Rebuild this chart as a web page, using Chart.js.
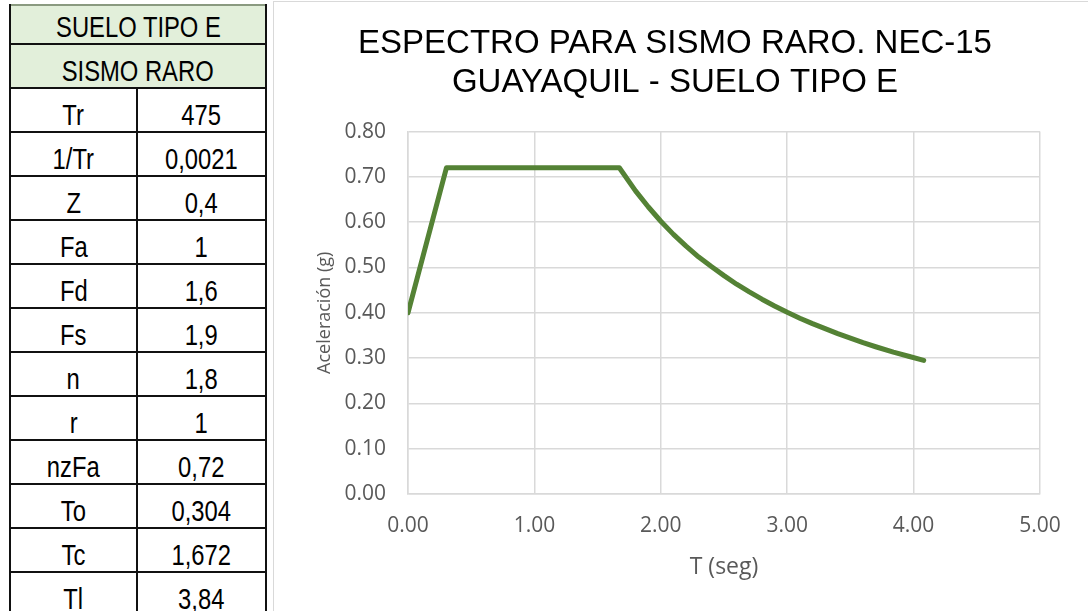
<!DOCTYPE html>
<html>
<head>
<meta charset="utf-8">
<script src="https://cdn.jsdelivr.net/npm/chart.js@4.4.1/dist/chart.umd.min.js"></script>
<style>
  html, body { margin: 0; padding: 0; background: #fff; overflow: hidden; }
  body { width: 1088px; height: 611px; position: relative; }
  #tabla { position: absolute; left: 0; top: 0; width: 270px; height: 611px; }
  .cell {
    position: absolute; box-sizing: border-box; overflow: hidden;
    font-family: "Liberation Sans", Arial, sans-serif; font-size: 29px; color: #000;
    text-align: center; white-space: nowrap;
  }
  .cell span { display: inline-block; transform: scaleX(0.82); transform-origin: center; line-height: 29px; }
  .hline { position: absolute; height: 2px; background: #111; }
  .vline { position: absolute; width: 2px; background: #111; }
  #panel {
    position: absolute; left: 273px; top: 1px; width: 830px; height: 640px;
    border-left: 1px solid #d9d9d9; border-top: 1px solid #d9d9d9;
  }
  #wrap { position: absolute; left: 274px; top: 3px; width: 814px; height: 608px; }
</style>
</head>
<body>
<div id="tabla"></div>
<div id="panel"></div>
<div id="wrap"><canvas id="espectro"></canvas></div>
<script>
// tabla de parametros
const encabezados = ['SUELO TIPO E', 'SISMO RARO'];
const parametros = ['Tr', '1/Tr', 'Z', 'Fa', 'Fd', 'Fs', 'n', 'r', 'nzFa', 'To', 'Tc', 'Tl'];
const valores = ['475', '0,0021', '0,4', '1', '1,6', '1,9', '1,8', '1', '0,72', '0,304', '1,672', '3,84'];

// espectro (T en seg, Sa en g)
const periodos = [0, 0.304, 1.672, 1.8, 1.9, 2.0, 2.1, 2.2, 2.3, 2.4, 2.5, 2.6, 2.7, 2.8, 2.9,
  3.0, 3.1, 3.2, 3.3, 3.4, 3.5, 3.6, 3.7, 3.84, 3.96, 4.08];
const aceleraciones = [0.40, 0.72, 0.72, 0.669, 0.634, 0.602, 0.573, 0.547, 0.523, 0.502, 0.482, 0.463,
  0.446, 0.430, 0.415, 0.401, 0.388, 0.376, 0.365, 0.354, 0.344, 0.334, 0.325, 0.313, 0.304, 0.295];

const tituloGrafico = ['ESPECTRO PARA SISMO RARO. NEC-15', 'GUAYAQUIL - SUELO TIPO E'];
const tituloX = 'T (seg)';
const tituloY = 'Aceleración (g)';

// armar la tabla
const tabla = document.getElementById('tabla');
const izq = 10, der = 266, medio = 137;
const filas = [5, 43.5];
for (let k = 1; k <= 13; k++) filas.push(43.5 + 44 * k);

function celda(x, y, w, h, texto, fondo) {
  const d = document.createElement('div');
  d.className = 'cell';
  d.style.left = x + 'px';
  d.style.top = y + 'px';
  d.style.width = w + 'px';
  d.style.height = h + 'px';
  d.style.paddingTop = (h - 33) + 'px';
  if (fondo) d.style.background = fondo;
  const s = document.createElement('span');
  s.textContent = texto;
  d.appendChild(s);
  tabla.appendChild(d);
}
encabezados.forEach((t, i) => {
  celda(izq, filas[i], der - izq, filas[i + 1] - filas[i], t, '#e2efda');
});
parametros.forEach((p, i) => {
  const y0 = filas[i + 2], y1 = filas[i + 3];
  celda(izq, y0, medio - izq, y1 - y0, p);
  celda(medio, y0, der - medio, y1 - y0, valores[i]);
});
filas.forEach((y, i) => {
  const l = document.createElement('div');
  l.className = 'hline';
  l.style.left = izq + 'px';
  l.style.top = (y - 1) + 'px';
  l.style.width = (der - izq + 1) + 'px';
  if (i === 0) l.style.background = '#8a9a80';
  tabla.appendChild(l);
});
[[izq, 5], [der, 5], [medio, filas[2]]].forEach(([x, y]) => {
  const l = document.createElement('div');
  l.className = 'vline';
  l.style.left = (x - 1) + 'px';
  l.style.top = (y - 1) + 'px';
  l.style.height = (620 - y) + 'px';
  tabla.appendChild(l);
});

// grafico
const puntos = periodos.map((t, i) => ({ x: t, y: aceleraciones[i] }));
const gris = '#595959';
const rejilla = '#d9d9d9';

new Chart(document.getElementById('espectro').getContext('2d'), {
  type: 'line',
  data: {
    datasets: [{
      label: 'Espectro',
      data: puntos,
      borderColor: '#548235',
      borderWidth: 5,
      pointRadius: 0,
      tension: 0,
      borderCapStyle: 'round',
      borderJoinStyle: 'round',
      fill: false
    }]
  },
  options: {
    responsive: true,
    maintainAspectRatio: false,
    animation: false,
    layout: { padding: { left: 36, right: 48, top: 0, bottom: 0 } },
    plugins: {
      legend: { display: false },
      tooltip: { enabled: false },
      title: {
        display: true,
        text: tituloGrafico,
        color: '#000',
        font: { family: 'Liberation Sans, Arial, sans-serif', size: 33, weight: 'normal', lineHeight: 1.19 },
        padding: { top: 21, bottom: 29 }
      }
    },
    scales: {
      x: {
        type: 'linear',
        min: 0,
        max: 5,
        ticks: {
          stepSize: 1,
          padding: 19,
          color: gris,
          font: { family: 'Open Sans', size: 21 },
          callback: v => v.toFixed(2)
        },
        grid: { color: rejilla, lineWidth: 1.5, drawTicks: false },
        border: { color: rejilla, width: 1.5 },
        title: {
          display: true,
          text: tituloX,
          color: gris,
          font: { family: 'Open Sans', size: 23 },
          padding: { top: 0, bottom: 30 }
        },
        afterFit: s => { s.height = 117; }
      },
      y: {
        min: 0,
        max: 0.8,
        ticks: {
          stepSize: 0.1,
          padding: 22,
          color: gris,
          font: { family: 'Open Sans', size: 21 },
          callback: v => v.toFixed(2)
        },
        grid: { color: rejilla, lineWidth: 1.5, drawTicks: false },
        border: { color: rejilla, width: 1.5 },
        title: {
          display: true,
          text: tituloY,
          color: gris,
          font: { family: 'Open Sans', size: 18 },
          padding: { top: 4, bottom: 0 }
        },
        afterFit: s => { s.width = 98; }
      }
    }
  }
});
</script>
</body>
</html>
